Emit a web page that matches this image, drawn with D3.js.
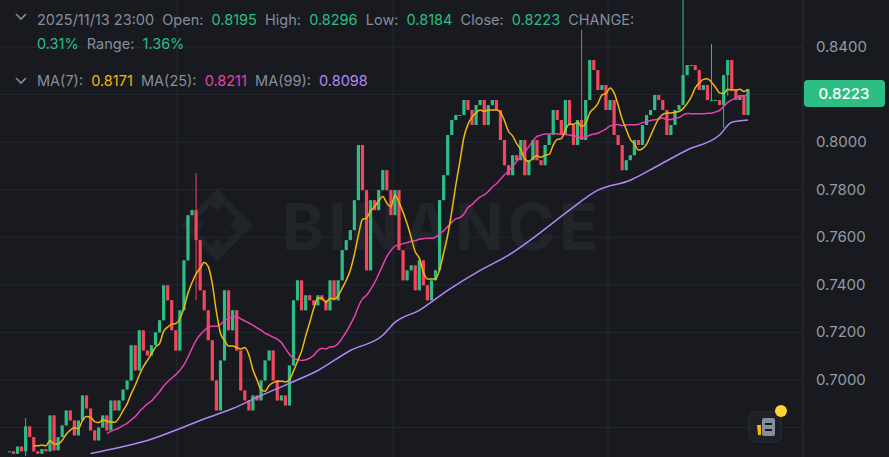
<!DOCTYPE html><html><head><meta charset="utf-8">
<script src="https://cdn.jsdelivr.net/npm/d3@7/dist/d3.min.js"></script>
<style>body{margin:0;background:#181a20}svg{display:block}</style></head><body>
<svg id="c" width="889" height="457"></svg>
<script>
const closes=[0.6700,0.6690,0.6720,0.6700,0.6805,0.6760,0.6700,0.6690,0.6710,0.6700,
0.6851,0.6704,0.6760,0.6809,0.6872,0.6830,0.6767,0.6830,0.6935,0.6880,0.6788,0.6746,0.6800,0.6851,0.6788,0.6914,0.6872,0.6914,0.6960,0.6998,0.7146,0.7040,0.7209,0.7124,0.7103,0.7146,0.7200,0.7251,0.7398,0.7335,0.7209,0.7124,0.7293,0.7503,0.7693,0.7714,0.7588,
0.7377,0.7293,0.7167,0.6998,0.6872,0.7082,0.7377,0.7209,0.7293,0.7124,0.6956,0.6914,0.6872,0.6935,0.6914,0.6998,0.7082,0.7124,0.6998,0.6914,0.6935,0.6893,0.7061,0.7335,0.7419,0.7293,0.7356,0.7335,0.7314,0.7356,0.7335,0.7293,0.7419,0.7335,0.7419,0.7546,0.7588,0.7630,0.7756,0.7988,0.7798,0.7461,0.7756,0.7714,0.7798,0.7882,0.7798,0.7693,0.7798,0.7546,0.7419,0.7461,0.7482,0.7377,0.7503,0.7398,0.7335,0.7419,0.7461,0.7756,0.7861,0.8030,0.8093,0.8114,0.8114,0.8177,0.8135,0.8072,0.8156,0.8177,0.8072,0.8156,0.8177,0.8135,0.8009,0.7903,0.7861,0.7945,0.7924,0.8009,0.7861,0.7924,0.8009,0.7924,0.7903,0.7988,0.8030,0.8135,0.8093,0.8030,0.8177,0.8072,0.7988,0.8093,0.8009,0.8177,0.8345,0.8303,0.8219,0.8240,0.8135,0.8177,0.8030,0.7988,0.7882,0.7924,0.7945,0.8009,0.7988,0.8072,0.8114,0.8135,0.8198,0.8177,0.8135,0.8030,0.8072,0.8135,0.8156,0.8282,0.8324,0.8324,0.8303,0.8219,0.8240,0.8177,0.8177,0.8177,0.8156,0.8282,0.8345,0.8219,0.8177,0.8198,0.8114,0.8223];
// notable wicks: [candle index, high, low]
const wicks=[[4,0.6840,0.6680],[46,0.7870,0.7335],[141,0.8472,0.8300],[166,0.8600,0.8300],[173,0.8413,0.8219],[176,0.8210,0.8060],[177,0.8290,0.8195]];
const ma99Idx=[20,27,34,42,47,55,62,69,76,84,92,95,101,108,116,123,130,138,145,153,160,167,175,178,182];
const ma99Val=[0.6691,0.6716,0.6746,0.6796,0.6830,0.6880,0.6935,0.6986,0.7040,0.7124,0.7188,0.7242,0.7293,0.7377,0.7461,0.7525,0.7609,0.7714,0.7798,0.7840,0.7903,0.7967,0.8030,0.8084,0.8093];
const yTicks=[0.70,0.72,0.74,0.76,0.78,0.80,0.82,0.84];
const yLabels=[0.70,0.72,0.74,0.76,0.78,0.80,0.84];

const svg=d3.select("#c");
const W=803,N=closes.length;
const y=d3.scaleLinear().domain([0.70,0.84]).range([380,47]);
const x=d3.scaleLinear().domain([10,N-1]).range([50,748]);
const F="Inter, 'Noto Sans', sans-serif";
svg.append("rect").attr("width",889).attr("height",457).attr("fill","#181a20");
const g=svg.append("g");
svg.append("clipPath").attr("id","pc").append("rect").attr("width",W).attr("height",457);
g.selectAll(".hg").data(yTicks.concat([0.86,0.68])).join("line").attr("x1",0).attr("x2",W).attr("y1",d=>y(d)).attr("y2",d=>y(d)).attr("stroke","#242830");
g.selectAll(".vg").data([177,393,608]).join("line").attr("x1",d=>d).attr("x2",d=>d).attr("y1",0).attr("y2",457).attr("stroke","#242830");
svg.append("line").attr("x1",W).attr("x2",W).attr("y1",0).attr("y2",457).attr("stroke","#2b2f36");
const wm=svg.append("g").attr("fill","#212429");
wm.append("text").attr("x",282).attr("y",250).attr("font-family",F).attr("font-weight",700).attr("font-size",64).attr("letter-spacing",4).text("BINANCE");
[[217,225,22],[217,200,8],[217,250,8],[193,225,8],[241,225,8]].forEach(([cx,cy,s],k)=>{
 wm.append("rect").attr("x",cx-s).attr("y",cy-s).attr("width",2*s).attr("height",2*s).attr("transform",`rotate(45 ${cx} ${cy})`).attr("fill",k==0?"none":"#212429").attr("stroke",k==0?"#212429":"none").attr("stroke-width",7);
});
const pg=svg.append("g").attr("clip-path","url(#pc)");
const data=closes.map((c,i)=>{const o=i?closes[i-1]:c;let h=Math.max(o,c),l=Math.min(o,c);const w=wicks.find(d=>d[0]===i);if(w){h=Math.max(h,w[1]);l=Math.min(l,w[2]);}return{i,o,c,h,l};});
const col=d=>d.c>=d.o?"#2ebd85":"#f6465d";
pg.selectAll(".wk").data(data).join("line").attr("x1",d=>x(d.i)).attr("x2",d=>x(d.i)).attr("y1",d=>y(d.h)).attr("y2",d=>y(d.l)).attr("stroke",col).attr("stroke-width",1);
pg.selectAll(".bd").data(data).join("rect").attr("x",d=>x(d.i)-1.6).attr("width",3.2).attr("y",d=>y(Math.max(d.o,d.c))).attr("height",d=>Math.max(1,Math.abs(y(d.o)-y(d.c)))).attr("fill",col);
function ma(n){return closes.map((c,i)=>i<n-1?null:d3.mean(closes.slice(i-n+1,i+1)));}
const line=d3.line().defined(d=>d[1]!=null).x(d=>x(d[0])).y(d=>y(d[1])).curve(d3.curveMonotoneX);
pg.append("path").attr("d",line(ma99Idx.map((v,k)=>[v,ma99Val[k]]))).attr("fill","none").attr("stroke","#b385f8").attr("stroke-width",1.5);
pg.append("path").attr("d",line(ma(25).map((v,i)=>[i,v]))).attr("fill","none").attr("stroke","#e840b0").attr("stroke-width",1.5);
pg.append("path").attr("d",line(ma(7).map((v,i)=>[i,v]))).attr("fill","none").attr("stroke","#f0b90b").attr("stroke-width",1.5);
svg.selectAll(".yl").data(yLabels).join("text").attr("x",816).attr("y",d=>y(d)+5).attr("fill","#929aa5").attr("font-family",F).attr("font-size",15).text(d=>d.toFixed(4));
svg.append("rect").attr("x",804).attr("y",80).attr("width",81).attr("height",27).attr("rx",4).attr("fill","#2ebd85");
svg.append("text").attr("x",844).attr("y",99).attr("text-anchor","middle").attr("fill","#fff").attr("font-family",F).attr("font-size",15).attr("font-weight",500).text("0.8223");
const G="#848e9c",GR="#2ebd85";
function row(yy,x0,parts){const t=svg.append("text").attr("x",x0).attr("y",yy).attr("font-family",F).attr("font-size",14.5).attr("xml:space","preserve");parts.forEach(([s,c])=>t.append("tspan").attr("fill",c).text(s));}
row(25,37,[["2025/11/13 23:00  ",G],["Open:  ",G],["0.8195  ",GR],["High:  ",G],["0.8296  ",GR],["Low:  ",G],["0.8184  ",GR],["Close:  ",G],["0.8223  ",GR],["CHANGE:",G]]);
row(49,37,[["0.31%  ",GR],["Range:  ",G],["1.36%",GR]]);
row(86,37,[["MA(7):  ",G],["0.8171  ",'#f0b90b'],["MA(25):  ",G],["0.8211  ",'#e840b0'],["MA(99):  ",G],["0.8098",'#b385f8']]);
[14,78].forEach(yy=>svg.append("path").attr("d",`M16 ${yy}l5 5l5 -5`).attr("fill","none").attr("stroke",G).attr("stroke-width",1.6));
svg.append("rect").attr("x",749).attr("y",412).attr("width",32).attr("height",30).attr("rx",6).attr("fill","#1e2026").attr("stroke","#2b2f36");
svg.append("rect").attr("x",762).attr("y",418).attr("width",13).attr("height",18).attr("rx",2).attr("fill","#848e9c");
svg.append("path").attr("d","M757 425h4v10h-3z").attr("fill","#f0b90b");
svg.append("path").attr("d","M765 424h7M765 430h7").attr("stroke","#181a20").attr("stroke-width",2);
svg.append("circle").attr("cx",781).attr("cy",411).attr("r",6).attr("fill","#fcd535");
</script></body></html>
